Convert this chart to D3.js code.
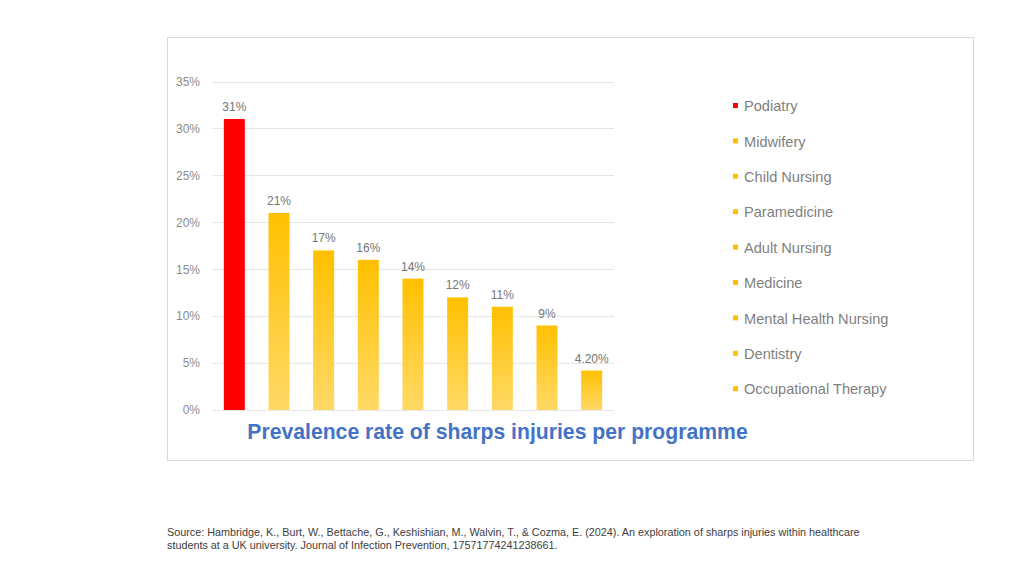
<!DOCTYPE html>
<html><head><meta charset="utf-8">
<script src="https://cdn.jsdelivr.net/npm/d3@7"></script>
<style>
html,body{margin:0;padding:0;background:#fff;}
svg{display:block;font-family:Arial,"Liberation Sans",sans-serif;}
</style></head>
<body>
<svg id="c" width="1024" height="576"></svg>
<script>
const categories = ["Podiatry","Midwifery","Child Nursing","Paramedicine","Adult Nursing","Medicine","Mental Health Nursing","Dentistry","Occupational Therapy"];
const values = [31, 21, 17, 16, 14, 12, 11, 9, 4.2];
const valueLabels = ["31%","21%","17%","16%","14%","12%","11%","9%","4.20%"];
const yTicks = [0,5,10,15,20,25,30,35];
const title = "Prevalence rate of sharps injuries per programme";
const sourceLines = [
  "Source: Hambridge, K., Burt, W., Bettache, G., Keshishian, M., Walvin, T., & Cozma, E. (2024). An exploration of sharps injuries within healthcare",
  "students at a UK university. Journal of Infection Prevention, 17571774241238661."
];

const svg = d3.select("#c");
const defs = svg.append("defs");
const grad = defs.append("linearGradient").attr("id","gold").attr("x1",0).attr("y1",0).attr("x2",0).attr("y2",1);
grad.append("stop").attr("offset","0%").attr("stop-color","#FFC000");
grad.append("stop").attr("offset","100%").attr("stop-color","#FFD966");

// chart frame
svg.append("rect").attr("x",167.5).attr("y",37.5).attr("width",806).attr("height",423)
  .attr("fill","#fff").attr("stroke","#d9d9d9").attr("stroke-width",1);

const x = d3.scaleBand().domain(categories).range([212, 614]).paddingInner(0.53).paddingOuter(0.265);
const y = d3.scaleLinear().domain([0,35]).range([410, 81.5]);

// gridlines
svg.append("g").selectAll("line").data(yTicks).join("line")
  .attr("x1",212).attr("x2",614)
  .attr("y1",d=>Math.round(y(d))+0.5).attr("y2",d=>Math.round(y(d))+0.5)
  .attr("stroke","#e6e6e6").attr("stroke-width",1);

// y axis labels
const yAxis = d3.axisLeft(y).tickValues(yTicks).tickFormat(d=>d+"%").tickSize(0).tickPadding(0);
const ga = svg.append("g").attr("transform","translate(200,0)").call(yAxis);
ga.select(".domain").remove();
ga.selectAll("text").attr("fill","#8c8c8c").style("font-size","12px").style("font-family","Arial,'Liberation Sans',sans-serif");

// bars
svg.append("g").selectAll("rect").data(values).join("rect")
  .attr("x",(d,i)=>x(categories[i]))
  .attr("width",x.bandwidth())
  .attr("y",d=>y(d))
  .attr("height",d=>y(0)-y(d))
  .attr("fill",(d,i)=>i===0?"#FF0000":"url(#gold)");

// value labels
svg.append("g").selectAll("text").data(values).join("text")
  .attr("x",(d,i)=>x(categories[i])+x.bandwidth()/2)
  .attr("y",d=>y(d)-8)
  .attr("text-anchor","middle")
  .attr("fill","#767676").style("font-size","12px")
  .text((d,i)=>valueLabels[i]);

// legend
const lg = svg.append("g");
categories.forEach((c,i)=>{
  const yy = 106 + i*35.4;
  lg.append("rect").attr("x",733).attr("y",yy-3).attr("width",5).attr("height",5)
    .attr("fill", i===0?"#FF0000":"#FFC000");
  lg.append("text").attr("x",744).attr("y",yy).attr("dy","0.35em")
    .attr("fill","#7f7f7f").style("font-size","14.6px").text(c);
});

// title
svg.append("text").attr("x",497.5).attr("y",432).attr("dy","0.35em").attr("text-anchor","middle")
  .attr("fill","#4472C4").style("font-size","21.2px").style("font-weight","bold").text(title);

// source
svg.append("g").selectAll("text").data(sourceLines).join("text")
  .attr("x",167).attr("y",(d,i)=>536+i*13)
  .attr("fill","#404040").style("font-size","10.8px")
  .style("font-family","'Liberation Sans Narrow','Arial Narrow',Arial,sans-serif")
  .text(d=>d);
</script>
</body></html>
